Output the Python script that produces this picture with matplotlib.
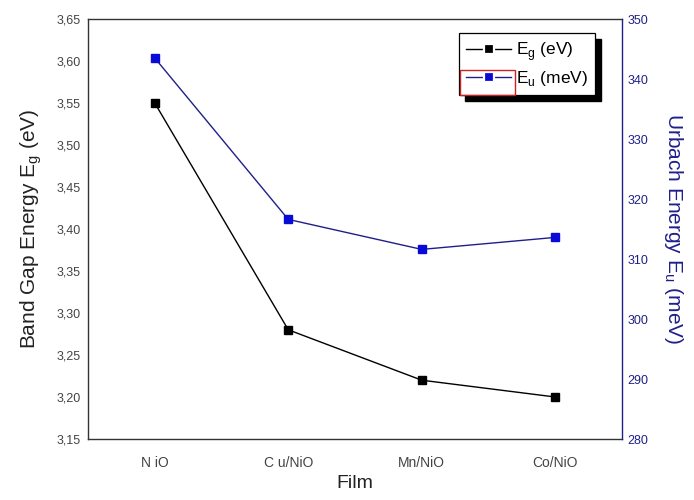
import matplotlib
matplotlib.use('Agg')
import matplotlib.pyplot as plt
from matplotlib.legend_handler import HandlerLine2D
from matplotlib.patches import Rectangle
from matplotlib.ticker import FuncFormatter, MultipleLocator

plt.rcParams['font.family'] = ['Liberation Sans', 'DejaVu Sans']

# Optical parameters of the films
films = ['NiO', 'Cu/NiO', 'Mn/NiO', 'Co/NiO']
film_labels = ['N iO', 'C u/NiO', 'Mn/NiO', 'Co/NiO']
eg = [3.55, 3.28, 3.22, 3.20]          # band gap (eV)
eu = [343.5, 316.6, 311.6, 313.6]      # Urbach energy (meV)

pos = list(range(1, len(films) + 1))

navy = '#1f1f8a'
blue = '#0a0ad8'
tick_grey = '#444444'

fig = plt.figure(figsize=(6.94, 5.0), dpi=100)
ax = fig.add_axes([0.1268, 0.122, 0.7695, 0.840])
ax2 = ax.twinx()

l1, = ax.plot(pos, eg, '-', color='black', lw=1.0, marker='s', ms=5.5,
              mfc='black', mec='black')
l2, = ax2.plot(pos, eu, '-', color=navy, lw=1.0, marker='s', ms=5.5,
               mfc=blue, mec=blue)

ax.set_xlim(0.5, 4.5)
ax.set_ylim(3.15, 3.65)
ax2.set_ylim(280, 350)

ax.set_xticks(pos)
ax.set_xticklabels(film_labels)
ax.yaxis.set_major_locator(MultipleLocator(0.05))
ax.yaxis.set_major_formatter(FuncFormatter(lambda v, p: f'{v:.2f}'.replace('.', ',')))
ax2.yaxis.set_major_locator(MultipleLocator(10))

ax.tick_params(axis='y', labelsize=9, colors=tick_grey, length=0, pad=5)
ax.tick_params(axis='x', labelsize=10, colors=tick_grey, length=0, pad=12)
ax2.tick_params(axis='y', labelsize=9, colors=navy, length=0, pad=4)

for s in ['left', 'bottom', 'top']:
    ax.spines[s].set_color('#333333')
    ax.spines[s].set_linewidth(1.0)
ax2.spines['right'].set_color(navy)
ax2.spines['right'].set_linewidth(1.0)
ax2.spines['left'].set_visible(False)
ax2.spines['top'].set_visible(False)
ax2.spines['bottom'].set_visible(False)
ax.spines['right'].set_visible(False)

ax.set_xlabel('Film', fontsize=14, color='#222222', labelpad=4)
ax.set_ylabel('Band Gap Energy E$_\\mathregular{g}$ (eV)', fontsize=15,
              color='#222222', labelpad=9)
ax2.set_ylabel('Urbach Energy E$_\\mathregular{u}$ (meV)', fontsize=15,
               color=navy, rotation=270, labelpad=26)


# legend handles: small square with white gaps cutting the line
def gap_marker(legend_line, orig_line):
    legend_line.update_from(orig_line)
    legend_line.set_markeredgecolor('white')
    legend_line.set_markeredgewidth(1.6)
    legend_line.set_markersize(6.5)


leg = ax2.legend([l1, l2], ['E$_\\mathregular{g}$ (eV)', 'E$_\\mathregular{u}$ (meV)'],
                 loc='upper right', bbox_to_anchor=(0.950, 0.966), fontsize=12.5,
                 frameon=True, fancybox=False, edgecolor='black', framealpha=1,
                 handler_map={l1: HandlerLine2D(update_func=gap_marker),
                              l2: HandlerLine2D(update_func=gap_marker)},
                 handlelength=2.6, handletextpad=0.3, borderpad=0.4,
                 labelspacing=0.35, borderaxespad=0)
leg.get_frame().set_linewidth(0.9)
leg.set_zorder(10)

# solid drop shadow and the red frame round the second legend handle
fig.canvas.draw()
inv = fig.transFigure.inverted()
hb = leg.get_window_extent().transformed(inv)
bb = leg.legend_handles[1].get_window_extent().transformed(inv)
dx, dy = 6 / 694, 6 / 500
ax2.add_artist(Rectangle((hb.x0 + dx, hb.y0 - dy), hb.width, hb.height,
                         transform=fig.transFigure, facecolor='black',
                         edgecolor='black', zorder=9, clip_on=False))
ax2.add_artist(Rectangle((hb.x0 + 1 / 694, bb.y0 - 13 / 500), bb.x1 - hb.x0 - 2 / 694, 25 / 500,
                         transform=fig.transFigure, fill=False,
                         edgecolor='#cc2222', lw=1.0, zorder=11, clip_on=False))

fig.savefig('out.png', dpi=100)
